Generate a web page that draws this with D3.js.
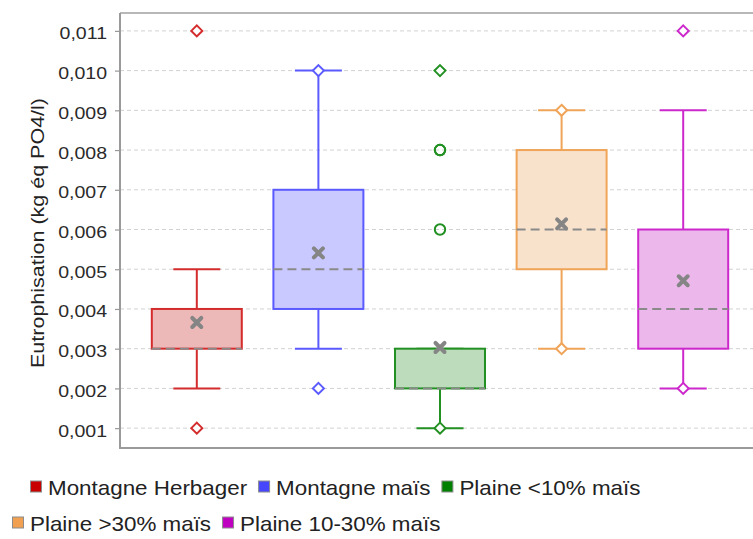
<!DOCTYPE html>
<html>
<head>
<meta charset="utf-8">
<script src="https://cdn.jsdelivr.net/npm/d3@7"></script>
<style>
  html, body { margin: 0; padding: 0; background: #fff; }
  svg { display: block; }
  text { font-family: "Liberation Sans", Arial, sans-serif; }
</style>
</head>
<body>
<svg id="chart" width="753" height="539"></svg>
<script>
// Eutrophisation per farm type — box-and-whisker summary
const categories = ["Montagne Herbager", "Montagne maïs", "Plaine <10% maïs", "Plaine >30% maïs", "Plaine 10-30% maïs"];
const q1Values = [0.003, 0.004, 0.002, 0.005, 0.003];
const medianValues = [0.003, 0.005, 0.002, 0.006, 0.004];
const q3Values = [0.004, 0.007, 0.003, 0.008, 0.006];
const whiskerLow = [0.002, 0.003, 0.001, 0.003, 0.002];
const whiskerHigh = [0.005, 0.010, 0.003, 0.009, 0.009];
const meanValues = [0.00366, 0.00541, 0.00303, 0.00614, 0.00471];
const minValues = [0.001, 0.002, 0.001, 0.003, 0.002];
const maxValues = [0.011, 0.010, 0.010, 0.009, 0.011];
const outlierValues = [[], [], [0.006, 0.008, 0.008], [], []];
const yTickValues = [0.001, 0.002, 0.003, 0.004, 0.005, 0.006, 0.007, 0.008, 0.009, 0.010, 0.011];
const yLabel = "Eutrophisation (kg éq PO4/l)";

const strokeColors = ["#d42c2c", "#5a5aff", "#229022", "#f0a458", "#cc28cc"];
const fillColors = ["#ecb8b8", "#c9c9ff", "#bcdcbc", "#f8e2cc", "#ecb8ec"];
const legendColors = ["#c80000", "#4646ff", "#008000", "#f0a050", "#c000c0"];

const svg = d3.select("#chart");
const plot = { left: 120, right: 753, top: 13, bottom: 448 };
const textStretch = 1.15;

const x = d3.scaleBand().domain(categories).range([136, 744]);
const y = d3.scaleLinear().domain([0.0005, 0.01145]).range([plot.bottom, plot.top]);

const fr = d3.formatLocale({ decimal: ",", thousands: " ", grouping: [3], currency: ["", "€"] });
const fmt = fr.format(".3f");

// Dashed horizontal gridlines
svg.append("g")
  .selectAll("line")
  .data(yTickValues)
  .join("line")
  .attr("x1", plot.left).attr("x2", plot.right)
  .attr("y1", d => y(d)).attr("y2", d => y(d))
  .attr("stroke", "#d2d2d2").attr("stroke-width", 1)
  .attr("stroke-dasharray", "4,3");

// Frame: top border line
svg.append("line")
  .attr("x1", plot.left).attr("x2", plot.right)
  .attr("y1", plot.top).attr("y2", plot.top)
  .attr("stroke", "#b8b8b8").attr("stroke-width", 2);

// Y axis
const yAxis = d3.axisLeft(y).tickValues(yTickValues).tickSize(5).tickPadding(8).tickFormat(fmt);
const gy = svg.append("g").attr("transform", `translate(${plot.left},0)`).call(yAxis);
gy.select(".domain").remove();
gy.selectAll(".tick line").attr("stroke", "#999").attr("stroke-width", 1.2);
gy.selectAll(".tick text")
  .attr("fill", "#2a2a2a")
  .attr("font-size", 17)
  .attr("font-family", "Liberation Sans, Arial, sans-serif")
  .attr("dy", "0.47em")
  .attr("transform", `translate(-13,0) scale(${textStretch},1)`)
  .attr("x", 0);

// Left axis line and bottom line
svg.append("line")
  .attr("x1", plot.left).attr("x2", plot.left)
  .attr("y1", plot.top).attr("y2", plot.bottom + 1)
  .attr("stroke", "#9a9a9a").attr("stroke-width", 2);
svg.append("line")
  .attr("x1", plot.left).attr("x2", plot.right)
  .attr("y1", plot.bottom).attr("y2", plot.bottom)
  .attr("stroke", "#9a9a9a").attr("stroke-width", 2);

// Y axis title
svg.append("text")
  .attr("transform", `translate(44,233) rotate(-90) scale(${textStretch},1)`)
  .attr("text-anchor", "middle")
  .attr("font-size", 18.7)
  .attr("fill", "#222")
  .text(yLabel);

// Boxes
const boxW = x.bandwidth() * 0.74;
const capW = 47;
const data = categories.map((c, i) => ({
  cat: c, i,
  q1: q1Values[i], med: medianValues[i], q3: q3Values[i],
  lo: whiskerLow[i], hi: whiskerHigh[i], mean: meanValues[i],
  min: minValues[i], max: maxValues[i], out: outlierValues[i]
}));

const boxes = svg.append("g").selectAll("g")
  .data(data)
  .join("g")
  .attr("transform", d => `translate(${x(d.cat) + x.bandwidth() / 2},0)`);

// whisker stems
boxes.append("line")
  .attr("x1", 0).attr("x2", 0)
  .attr("y1", d => y(d.lo)).attr("y2", d => y(d.hi))
  .attr("stroke", d => strokeColors[d.i]).attr("stroke-width", 2);
// whisker caps
boxes.append("line")
  .attr("x1", -capW / 2).attr("x2", capW / 2)
  .attr("y1", d => y(d.hi)).attr("y2", d => y(d.hi))
  .attr("stroke", d => strokeColors[d.i]).attr("stroke-width", 2);
boxes.append("line")
  .attr("x1", -capW / 2).attr("x2", capW / 2)
  .attr("y1", d => y(d.lo)).attr("y2", d => y(d.lo))
  .attr("stroke", d => strokeColors[d.i]).attr("stroke-width", 2);
// box body
boxes.append("rect")
  .attr("x", -boxW / 2).attr("width", boxW)
  .attr("y", d => y(d.q3)).attr("height", d => y(d.q1) - y(d.q3))
  .attr("fill", d => fillColors[d.i])
  .attr("stroke", d => strokeColors[d.i]).attr("stroke-width", 2);
// median
boxes.append("line")
  .attr("x1", -boxW / 2).attr("x2", boxW / 2)
  .attr("y1", d => y(d.med)).attr("y2", d => y(d.med))
  .attr("stroke", "#8a8a8a").attr("stroke-width", 2)
  .attr("stroke-dasharray", "9,5");
// mean marker (X)
const meanMark = boxes.append("g")
  .attr("transform", d => `translate(0,${y(d.mean)})`);
meanMark.append("path")
  .attr("d", "M-4.5,-4.5L4.5,4.5M-4.5,4.5L4.5,-4.5")
  .attr("stroke", "#858585").attr("stroke-width", 4)
  .attr("stroke-linecap", "round");

// min / max diamonds
const diamond = "M0,-5.5L5.5,0L0,5.5L-5.5,0Z";
boxes.selectAll("path.extreme")
  .data(d => [d.min, d.max].map(v => ({ v, i: d.i })))
  .join("path")
  .attr("class", "extreme")
  .attr("d", diamond)
  .attr("transform", d => `translate(0,${y(d.v)})`)
  .attr("fill", "#fff")
  .attr("stroke", d => strokeColors[d.i]).attr("stroke-width", 2);

// outliers (circles)
boxes.selectAll("circle.outlier")
  .data(d => d.out.map(v => ({ v, i: d.i })))
  .join("circle")
  .attr("class", "outlier")
  .attr("cx", 0).attr("cy", d => y(d.v)).attr("r", 5.2)
  .attr("fill", "none")
  .attr("stroke", d => strokeColors[d.i]).attr("stroke-width", 2);

// Legend, flowing in two rows
const legendRows = [
  { start: 30, baseline: 495, items: [0, 1, 2] },
  { start: 12, baseline: 531, items: [3, 4] }
];
const legendStretch = 1.12;
const legend = svg.append("g");
legendRows.forEach(row => {
  let cx = row.start;
  row.items.forEach(i => {
    legend.append("rect")
      .attr("x", cx + 0.5).attr("y", row.baseline - 14.5 + 0.5)
      .attr("width", 11).attr("height", 11)
      .attr("fill", legendColors[i])
      .attr("stroke", "#8c8c8c").attr("stroke-width", 1);
    const t = legend.append("text")
      .attr("transform", `translate(${cx + 18},${row.baseline}) scale(${legendStretch},1)`)
      .attr("font-size", 20)
      .attr("fill", "#222")
      .text(categories[i]);
    const w = t.node().getComputedTextLength() * legendStretch;
    cx += 18 + w + 11;
  });
});
</script>
</body>
</html>
